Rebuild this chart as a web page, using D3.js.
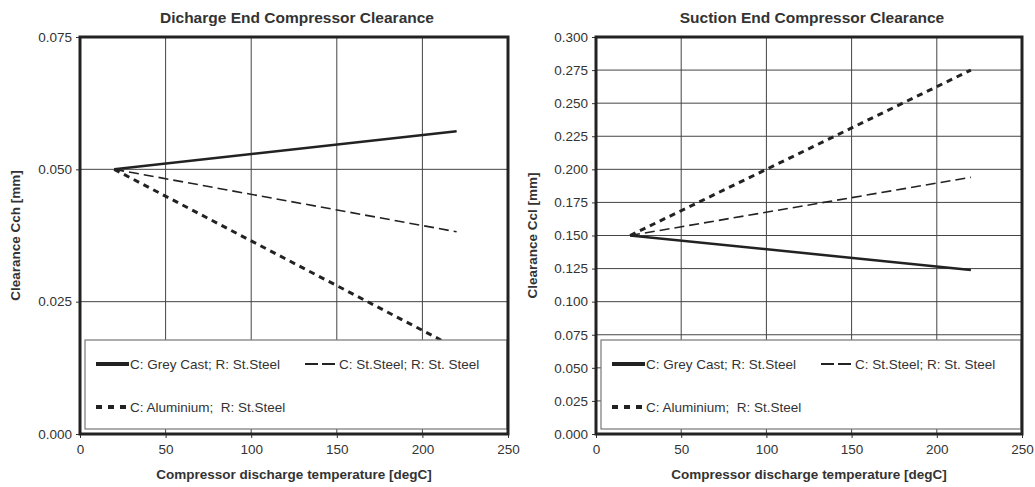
<!DOCTYPE html>
<html>
<head>
<meta charset="utf-8">
<script src="https://cdn.jsdelivr.net/npm/d3@7"></script>
<style>
  body { margin: 0; background: #fff; }
  text { font-family: Arial, "Liberation Sans", sans-serif; fill: #333; }
</style>
</head>
<body>
<div id="chart"></div>
<script>
// Data
var temps = [20, 220]

// discharge end clearance Cch [mm]
var dis_grey = [0.050, 0.0572]
var dis_steel = [0.050, 0.0382]
var dis_alu = [0.050, 0.0162]

// suction end clearance Ccl [mm]
var suc_grey = [0.150, 0.124]
var suc_steel = [0.150, 0.194]
var suc_alu = [0.150, 0.275]

var x_ticks = [0, 50, 100, 150, 200, 250]
var dis_yticks = [0, 0.025, 0.05, 0.075]
var suc_yticks = [0, 0.025, 0.05, 0.075, 0.1, 0.125, 0.15, 0.175, 0.2, 0.225, 0.25, 0.275, 0.3]

var series_names = ["C: Grey Cast; R: St.Steel", "C: St.Steel; R: St. Steel", "C: Aluminium;  R: St.Steel"]

var svg_width = 1035
var svg_height = 487

var svg = d3.select("#chart")
    .append("svg")
    .attr("width", svg_width)
    .attr("height", svg_height)

var styles = [
    { width: 2.5, dash: null },
    { width: 1.6, dash: "10,5" },
    { width: 3, dash: "6,5" }
]

function drawChart(opts) {
    var left = opts.left, top = 37, w = opts.w, h = 397

    var x = d3.scaleLinear().domain([0, 250]).range([left, left + w])
    var y = d3.scaleLinear().domain([0, opts.ymax]).range([top + h, top])

    // title
    svg.append("text")
        .attr("x", left + w / 2 + 3)
        .attr("y", 23)
        .attr("text-anchor", "middle")
        .style("font-size", "15.5px")
        .style("font-weight", "bold")
        .text(opts.title)

    // grid
    svg.append("g").selectAll("line")
        .data(x_ticks.slice(1, -1))
        .enter().append("line")
        .attr("x1", d => x(d)).attr("x2", d => x(d))
        .attr("y1", top).attr("y2", top + h)
        .attr("stroke", "#444").attr("stroke-width", 1)

    svg.append("g").selectAll("line")
        .data(opts.yticks.slice(1, -1))
        .enter().append("line")
        .attr("x1", left).attr("x2", left + w)
        .attr("y1", d => y(d)).attr("y2", d => y(d))
        .attr("stroke", "#444").attr("stroke-width", 1)

    // axes
    var x_axis = svg.append("g")
        .attr("transform", `translate(0, ${top + h})`)
        .call(d3.axisBottom(x).tickValues(x_ticks).tickSize(4).tickPadding(6).tickFormat(d3.format("d")))
    var y_axis = svg.append("g")
        .attr("transform", `translate(${left}, 0)`)
        .call(d3.axisLeft(y).tickValues(opts.yticks).tickSize(4).tickPadding(4).tickFormat(d3.format(".3f")))

    ;[x_axis, y_axis].forEach(function(a) {
        a.select(".domain").remove()
        a.selectAll(".tick line").attr("stroke", "#333")
        a.selectAll(".tick text")
            .style("font-size", "13.5px")
            .style("font-family", "Arial, 'Liberation Sans', sans-serif")
            .attr("fill", "#333")
    })

    // lines
    var line = d3.line().x(d => x(d[0])).y(d => y(d[1]))
    opts.series.forEach(function(s, i) {
        svg.append("path")
            .datum(temps.map((t, j) => [t, s[j]]))
            .attr("d", line)
            .attr("fill", "none")
            .attr("stroke", "#222")
            .attr("stroke-width", styles[i].width)
            .attr("stroke-dasharray", styles[i].dash)
    })

    // legend
    var lx = left + 5, ly = 340, lw = w - 6, lh = 89
    var legend = svg.append("g")
    legend.append("rect")
        .attr("x", lx).attr("y", ly).attr("width", lw).attr("height", lh)
        .attr("fill", "#fff").attr("stroke", "#777").attr("stroke-width", 1.2)

    var entries = [
        { dx: 11, dy: 24, i: 0 },
        { dx: 220, dy: 24, i: 1 },
        { dx: 11, dy: 67, i: 2 }
    ]
    entries.forEach(function(e) {
        legend.append("line")
            .attr("x1", lx + e.dx).attr("x2", lx + e.dx + 33)
            .attr("y1", ly + e.dy).attr("y2", ly + e.dy)
            .attr("stroke", "#222")
            .attr("stroke-width", e.i == 1 ? 2 : 4)
            .attr("stroke-dasharray", e.i == 1 ? "13,4" : (e.i == 2 ? "6,6" : null))
        legend.append("text")
            .attr("x", lx + e.dx + 34)
            .attr("y", ly + e.dy + 5)
            .style("font-size", "13.5px")
            .style("white-space", "pre")
            .text(series_names[e.i])
    })

    // frame
    svg.append("rect")
        .attr("x", left).attr("y", top).attr("width", w).attr("height", h)
        .attr("fill", "none").attr("stroke", "#222").attr("stroke-width", 3)

    // axis titles
    svg.append("text")
        .attr("x", left + w / 2)
        .attr("y", 479)
        .attr("text-anchor", "middle")
        .style("font-size", "13.5px")
        .style("font-weight", "bold")
        .text("Compressor discharge temperature [degC]")

    svg.append("text")
        .attr("transform", `translate(${opts.ylabel_x}, ${top + h / 2}) rotate(-90)`)
        .attr("text-anchor", "middle")
        .style("font-size", "13.5px")
        .style("font-weight", "bold")
        .text(opts.ylabel)
}

drawChart({
    left: 80, w: 428, ymax: 0.075, yticks: dis_yticks,
    title: "Dicharge End Compressor Clearance",
    ylabel: "Clearance Cch [mm]", ylabel_x: 20,
    series: [dis_grey, dis_steel, dis_alu]
})

drawChart({
    left: 596, w: 426, ymax: 0.3, yticks: suc_yticks,
    title: "Suction End Compressor Clearance",
    ylabel: "Clearance Ccl [mm]", ylabel_x: 537,
    series: [suc_grey, suc_steel, suc_alu]
})
</script>
</body>
</html>
